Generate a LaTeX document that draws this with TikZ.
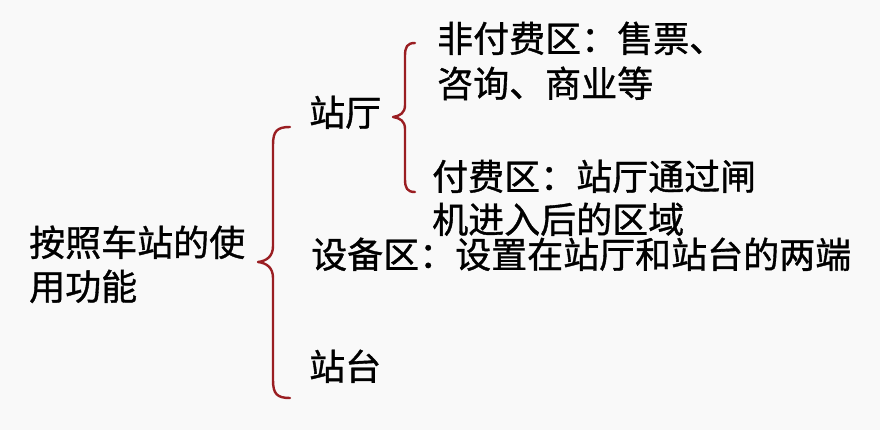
\documentclass[tikz,border=0pt]{standalone}
\usepackage{fontspec}
\setmainfont[FakeBold=1]{Noto Sans CJK SC}
\begin{document}
\begin{tikzpicture}[x=1pt,y=-1pt,
  lbl/.style={anchor=base west,inner sep=0pt,font=\fontsize{36}{44}\selectfont,text=black},
  brace/.style={draw=bracered,line width=2.4pt,line cap=round,line join=round}]
\definecolor{bracered}{HTML}{9A1E22}
\fill[fill={rgb,255:red,249;green,249;blue,249}] (0,0) rectangle (880,430);
\useasboundingbox (0,0) rectangle (880,430);
% root
\node[lbl] (root1) at (29,256) {按照车站的使};
\node[lbl] (root2) at (29,300) {用功能};
% level 1
\node[lbl] (hall) at (309,126) {站厅};
\node[lbl] (equip) at (311,268) {设备区：设置在站厅和站台的两端};
\node[lbl] (plat) at (309,380) {站台};
% level 2
\node[lbl] (unpaid1) at (437,52) {非付费区：售票、};
\node[lbl] (unpaid2) at (437,97) {咨询、商业等};
\node[lbl] (paid1) at (432,190) {付费区：站厅通过闸};
\node[lbl] (paid2) at (432,233) {机进入后的区域};
% big brace
\coordinate (b1top) at (290,127);
\coordinate (b1tip) at (258,262);
\coordinate (b1bot) at (290,398);
\draw[brace] (b1top) .. controls (277,127) and (273,131) .. (273,145)
  -- (273,246) .. controls (273,257) and (266,261) .. (b1tip)
  .. controls (266,263) and (273,267) .. (273,278)
  -- (273,380) .. controls (273,394) and (277,398) .. (b1bot);
% small brace
\coordinate (b2top) at (415,43);
\coordinate (b2tip) at (393,117);
\coordinate (b2bot) at (415,192);
\draw[brace] (b2top) .. controls (407,43) and (405,47) .. (405,56)
  -- (405,105) .. controls (405,113) and (400,116) .. (b2tip)
  .. controls (400,118) and (405,121) .. (405,129)
  -- (405,179) .. controls (405,188) and (407,192) .. (b2bot);
\end{tikzpicture}
\end{document}
